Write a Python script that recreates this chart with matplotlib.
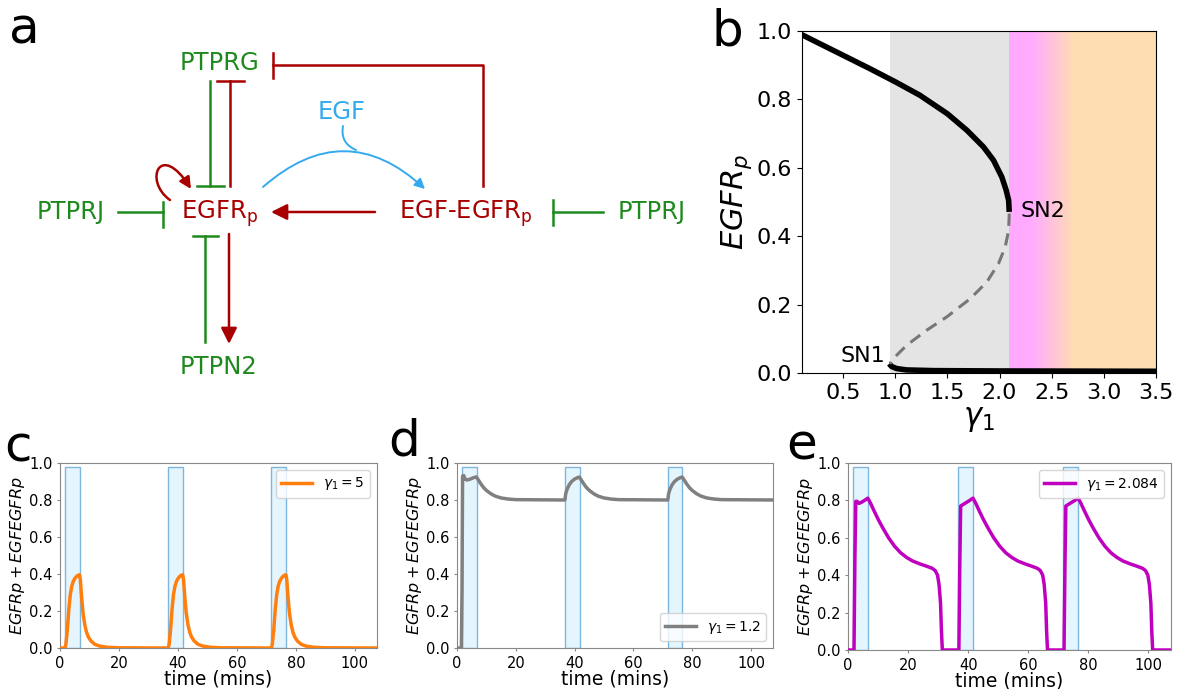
import numpy as np
import matplotlib.pyplot as plt
from matplotlib.patches import FancyArrowPatch, Rectangle
from matplotlib.path import Path

# ---------------- panel b: bifurcation branches ----------------
gamma_upper = [0.106, 0.276, 0.5, 0.756, 1.003, 1.237, 1.5, 1.686, 1.846, 1.942, 2.022, 2.064, 2.087, 2.093]
egfr_upper = [0.989, 0.963, 0.929, 0.890, 0.851, 0.812, 0.758, 0.710, 0.661, 0.622, 0.573, 0.534, 0.505, 0.471]
gamma_mid = [2.093, 2.087, 2.054, 1.99, 1.878, 1.718, 1.494, 1.301, 1.109, 0.981, 0.949]
egfr_mid = [0.466, 0.417, 0.368, 0.320, 0.266, 0.217, 0.164, 0.125, 0.081, 0.042, 0.027]
gamma_lower = [0.942, 0.965, 1.013, 1.109, 1.365, 2.006, 3.5]
egfr_lower = [0.027, 0.019, 0.013, 0.009, 0.007, 0.006, 0.005]
bistable_region = (0.95, 2.09)
osc_region = (2.09, 3.5)

# ---------------- panels c-e: time courses ----------------
pulse_starts = [1.7, 36.7, 71.7]
pulse_width = 5.0

t_c = [0, 1.7, 2.0, 2.5, 3.0, 3.5, 4.0, 4.5, 5.0, 5.5, 6.0, 6.6, 6.9, 7.3, 7.8, 8.4, 9.0, 9.6, 10.5, 11.8, 13.5, 16.0, 20.0,
       36.7, 37.0, 37.5, 38.0, 38.5, 39.0, 39.5, 40.0, 40.5, 41.0, 41.6, 41.9, 42.3, 42.8, 43.4, 44.0, 44.6, 45.5, 46.8, 48.5, 51.0, 55.0,
       71.7, 72.0, 72.5, 73.0, 73.5, 74.0, 74.5, 75.0, 75.5, 76.0, 76.6, 76.9, 77.3, 77.8, 78.4, 79.0, 79.6, 80.5, 81.8, 83.5, 86.0, 90.0, 108]
y_c = [0, 0, 0.02, 0.10, 0.21, 0.29, 0.335, 0.36, 0.375, 0.385, 0.392, 0.396, 0.37, 0.28, 0.19, 0.125, 0.085, 0.06, 0.038, 0.02, 0.01, 0.004, 0.001,
       0, 0.02, 0.10, 0.21, 0.29, 0.335, 0.36, 0.375, 0.385, 0.392, 0.396, 0.37, 0.28, 0.19, 0.125, 0.085, 0.06, 0.038, 0.02, 0.01, 0.004, 0.001,
       0, 0.02, 0.10, 0.21, 0.29, 0.335, 0.36, 0.375, 0.385, 0.392, 0.396, 0.37, 0.28, 0.19, 0.125, 0.085, 0.06, 0.038, 0.02, 0.01, 0.004, 0.001, 0]

t_d = [0, 1.5, 1.7, 1.9, 2.3, 2.8, 3.5, 4.5, 5.5, 6.6, 7.2, 8.0, 9.0, 10.0, 11.5, 13.0, 15.0, 17.5, 20.0,
       36.7, 37.0, 37.5, 38.2, 39.0, 40.0, 41.0, 41.6, 42.2, 43.0, 44.0, 45.0, 46.5, 48.0, 50.0, 52.5, 55.0,
       71.7, 72.0, 72.5, 73.2, 74.0, 75.0, 76.0, 76.6, 77.2, 78.0, 79.0, 80.0, 81.5, 83.0, 85.0, 87.5, 90.0, 108]
y_d = [0, 0, 0.30, 0.93, 0.932, 0.912, 0.908, 0.913, 0.92, 0.925, 0.91, 0.89, 0.868, 0.852, 0.834, 0.821, 0.811, 0.805, 0.802,
       0.80, 0.835, 0.86, 0.883, 0.90, 0.913, 0.921, 0.924, 0.91, 0.89, 0.868, 0.852, 0.834, 0.821, 0.811, 0.805, 0.802,
       0.80, 0.835, 0.86, 0.883, 0.90, 0.913, 0.921, 0.924, 0.91, 0.89, 0.868, 0.852, 0.834, 0.821, 0.811, 0.805, 0.802, 0.80]

t_e = [0, 2.0, 2.3, 2.6, 3.0, 3.7, 4.5, 5.5, 6.6, 7.5, 8.5, 10.0, 11.5, 13.5, 15.5, 17.5, 19.5, 21.5, 24.0, 26.0, 28.0, 29.0, 29.8, 30.3, 30.8, 31.1, 31.4,
       36.9, 37.2, 37.5, 38.5, 39.5, 40.5, 41.6, 42.5, 43.5, 45.0, 46.5, 48.5, 50.5, 52.5, 54.5, 56.5, 59.0, 61.0, 63.0, 64.0, 64.8, 65.3, 65.8, 66.1, 66.4,
       71.9, 72.2, 72.5, 73.5, 74.5, 75.5, 76.6, 77.5, 78.5, 80.0, 81.5, 83.5, 85.5, 87.5, 89.5, 91.5, 94.0, 96.0, 98.0, 99.0, 99.8, 100.3, 100.8, 101.1, 101.4, 108]
y_e = [0, 0, 0.50, 0.795, 0.795, 0.784, 0.79, 0.80, 0.812, 0.785, 0.75, 0.70, 0.655, 0.60, 0.555, 0.52, 0.495, 0.476, 0.46, 0.449, 0.437, 0.425, 0.40, 0.35, 0.25, 0.10, 0,
       0, 0.45, 0.77, 0.78, 0.79, 0.80, 0.812, 0.785, 0.75, 0.70, 0.655, 0.60, 0.555, 0.52, 0.495, 0.476, 0.46, 0.449, 0.437, 0.425, 0.40, 0.35, 0.25, 0.10, 0,
       0, 0.45, 0.77, 0.78, 0.79, 0.80, 0.812, 0.785, 0.75, 0.70, 0.655, 0.60, 0.555, 0.52, 0.495, 0.476, 0.46, 0.449, 0.437, 0.425, 0.40, 0.35, 0.25, 0.10, 0, 0]

series = [
    ('c', t_c, y_c, '#FF7F0E', r'$\gamma_1 = 5$', 'upper right'),
    ('d', t_d, y_d, '#808080', r'$\gamma_1 = 1.2$', 'lower right'),
    ('e', t_e, y_e, '#BF00BF', r'$\gamma_1 = 2.084$', 'upper right'),
]

# ---------------- panel a: network layout (pixel space of the panel) ----------------
RED = '#A80000'
GREEN = '#1E8A1E'
BLUE = '#33AAEE'
nodes = {
    'PTPRG': (220, 63, GREEN),
    'EGF': (342, 112, BLUE),
    'EGFR$_\\mathregular{p}$': (220, 214, RED),
    'EGF-EGFR$_\\mathregular{p}$': (466, 214, RED),
    'PTPRJ': (71, 212, GREEN),
    'PTPRJ ': (652, 212, GREEN),
    'PTPN2': (219, 367, GREEN),
}

W, H = 1180, 689
fig = plt.figure(figsize=(W / 100, H / 100), dpi=100)


def box(x0, y0, x1, y1):
    return [x0 / W, 1 - y1 / H, (x1 - x0) / W, (y1 - y0) / H]


# ---- panel a ----
axa = fig.add_axes(box(0, 0, 700, 400))
axa.set_xlim(0, 700)
axa.set_ylim(400, 0)
axa.axis('off')
for name, (x, y, col) in nodes.items():
    axa.text(x, y, name.strip(), color=col, fontsize=17.5, ha='center', va='center')

lw = 1.8
# EGF-EGFRp ⊣ PTPRG
axa.plot([483, 483, 273], [186, 65, 65], color=RED, lw=lw)
axa.plot([273, 273], [53, 78], color=RED, lw=lw)
# PTPRG ⊣ EGFRp
axa.plot([210, 210], [81, 186], color=GREEN, lw=lw)
axa.plot([197, 224], [186, 186], color=GREEN, lw=lw)
# EGFRp ⊣ PTPRG
axa.plot([230, 230], [186, 81], color=RED, lw=lw)
axa.plot([217, 244], [81, 81], color=RED, lw=lw)
# PTPRJ ⊣ EGFRp
axa.plot([118, 163], [212, 212], color=GREEN, lw=lw)
axa.plot([163, 163], [202, 227], color=GREEN, lw=lw)
# PTPRJ ⊣ EGF-EGFRp
axa.plot([603, 553], [212, 212], color=GREEN, lw=lw)
axa.plot([553, 553], [200, 225], color=GREEN, lw=lw)
# PTPN2 ⊣ EGFRp
axa.plot([205, 205], [342, 236], color=GREEN, lw=lw)
axa.plot([193, 218], [236, 236], color=GREEN, lw=lw)
# EGF-EGFRp -> EGFRp
axa.add_patch(FancyArrowPatch((375, 212), (271, 212), arrowstyle='-|>', mutation_scale=24,
                              color=RED, lw=lw, shrinkA=0, shrinkB=0))
# EGFRp -> PTPN2
axa.add_patch(FancyArrowPatch((229, 234), (229, 344), arrowstyle='-|>', mutation_scale=24,
                              color=RED, lw=lw, shrinkA=0, shrinkB=0))
# autophosphorylation loop
loop = Path([(170, 200), (143, 181), (160, 140), (191, 189)],
            [Path.MOVETO, Path.CURVE4, Path.CURVE4, Path.CURVE4])
axa.add_patch(FancyArrowPatch(path=loop, arrowstyle='-|>', mutation_scale=17, color=RED, lw=lw))
# EGF binding
axa.add_patch(FancyArrowPatch((263, 187), (425, 189), connectionstyle='arc3,rad=-0.45',
                              arrowstyle='-|>', mutation_scale=15, color=BLUE, lw=1.4,
                              shrinkA=0, shrinkB=0))
axa.add_patch(FancyArrowPatch((343, 126), (356, 150), connectionstyle='arc3,rad=0.4',
                              arrowstyle='-', color=BLUE, lw=1.4, shrinkA=0, shrinkB=0))

# ---- panel b ----
axb = fig.add_axes(box(802, 31, 1156, 373))
axb.axvspan(*bistable_region, color='#E4E4E4', lw=0, zorder=0)
pink = np.array([1.0, 0.67, 1.0])
peach = np.array([1.0, 0.87, 0.70])
w = np.clip((np.linspace(osc_region[0], osc_region[1], 300) - 2.3) / 0.42, 0, 1)
img = (1 - w)[:, None] * pink + w[:, None] * peach
axb.imshow(img[None, :, :], extent=[osc_region[0], osc_region[1], 0, 1], aspect='auto', zorder=0)
axb.plot(gamma_upper, egfr_upper, color='black', lw=4, solid_capstyle='butt')
axb.plot(gamma_lower, egfr_lower, color='black', lw=4, solid_capstyle='butt')
axb.plot(gamma_mid, egfr_mid, color='#777777', lw=2.2, ls=(0, (4, 2.5)))
axb.text(0.9, 0.05, 'SN1', fontsize=16, ha='right', va='center')
axb.text(2.2, 0.475, 'SN2', fontsize=16, ha='left', va='center')
axb.set_xlim(0.106, 3.5)
axb.set_ylim(0, 1.0)
axb.set_xticks(np.arange(0.5, 3.51, 0.5))
axb.set_yticks(np.arange(0, 1.01, 0.2))
axb.tick_params(labelsize=16)
axb.set_xlabel(r'$\gamma_1$', fontsize=22, labelpad=2)
axb.set_ylabel(r'$EGFR_p$', fontsize=22, labelpad=2)

# ---- panels c, d, e ----
positions = {'c': (60, 463, 377, 648), 'd': (457, 463, 773, 648), 'e': (848, 463, 1171, 650)}
for key, t, y, col, lab, loc in series:
    ax = fig.add_axes(box(*positions[key]))
    for s in pulse_starts:
        ax.add_patch(Rectangle((s, 0), pulse_width, 0.98, facecolor='#E5F5FD',
                               edgecolor='#7DB6DE', lw=1, zorder=1))
    ax.plot(t, y, color=col, lw=2.5, label=lab, zorder=3)
    ax.set_xlim(0, 107.5)
    ax.set_ylim(0, 1.0)
    ax.set_xticks([0, 20, 40, 60, 80, 100])
    ax.set_yticks(np.arange(0, 1.01, 0.2))
    ax.tick_params(labelsize=10.5, length=2, color='#888888')
    for sp in ax.spines.values():
        sp.set_color('#888888')
    ax.set_xlabel('time (mins)', fontsize=13.5, labelpad=-1)
    ax.set_ylabel('$EGFRp + EGFEGFRp$', fontsize=11.5, labelpad=1)
    ax.legend(loc=loc, fontsize=10, handlelength=2.2)

# panel letters
for letter, x, y in [('a', 9, 43), ('b', 712, 45), ('c', 4, 461), ('d', 388, 455), ('e', 786, 459)]:
    fig.text(x / W, 1 - y / H, letter, fontsize=36, va='baseline', ha='left')

plt.savefig('out.png', dpi=100)
